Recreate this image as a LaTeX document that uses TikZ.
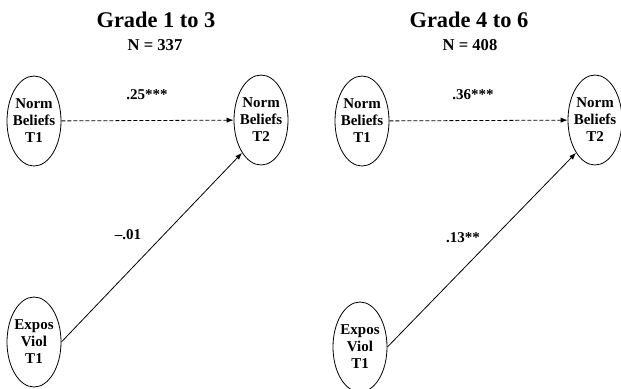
\documentclass[tikz,border=0pt]{standalone}
\usepackage{fontspec}
\setmainfont{Liberation Serif}
\usetikzlibrary{arrows.meta,shapes.geometric}

\tikzset{
  latent/.style={draw, ellipse, thin, minimum width=27pt, minimum height=45pt,
    inner xsep=-1.5pt, inner ysep=4pt, align=center,
    font=\bfseries\fontsize{7.5}{8.5}\selectfont},
  coef/.style={font=\bfseries\fontsize{7.5}{9}\selectfont},
  effect/.style={thin, -{Latex[length=3.5pt,width=2.6pt]}},
}

\begin{document}
\begin{tikzpicture}[x=0.5pt, y=-0.5pt]
    \useasboundingbox (0,0) rectangle (621,388);

    % Grade 1 to 3
    \node[font=\bfseries\fontsize{11.2}{13}\selectfont] (titleA) at (156,20) {Grade 1 to 3};
    \node[font=\bfseries\fontsize{8.3}{10}\selectfont] (nA) at (155,45) {N = 337};

    \node[latent] (normA1) at (34,121) {Norm\\Beliefs\\T1};
    \node[latent] (normA2) at (261,120) {Norm\\Beliefs\\T2};
    \node[latent] (violA1) at (34,342) {Expos\\Viol\\T1};

    \draw[effect, dash pattern=on 2pt off 1pt] (normA1) -- (normA2);
    \draw[effect] (violA1.east) -- (normA2.240);
    \node[coef] (bA1) at (147,95) {.25***};
    \node[coef] (bA2) at (128,235) {--.01};

    % Grade 4 to 6
    \node[font=\bfseries\fontsize{11.2}{13}\selectfont] (titleB) at (469,20) {Grade 4 to 6};
    \node[font=\bfseries\fontsize{8.3}{10}\selectfont] (nB) at (470,45) {N = 408};

    \node[latent] (normB1) at (362,121) {Norm\\Beliefs\\T1};
    \node[latent] (normB2) at (595,120) {Norm\\Beliefs\\T2};
    \node[latent] (violB1) at (360,347) {Expos\\Viol\\T1};

    \draw[effect, dash pattern=on 2pt off 1pt] (normB1) -- (normB2);
    \draw[effect] (violB1.east) -- (normB2.240);
    \node[coef] (bB1) at (473,95) {.36***};
    \node[coef] (bB2) at (463,238) {.13**};
\end{tikzpicture}
\end{document}
